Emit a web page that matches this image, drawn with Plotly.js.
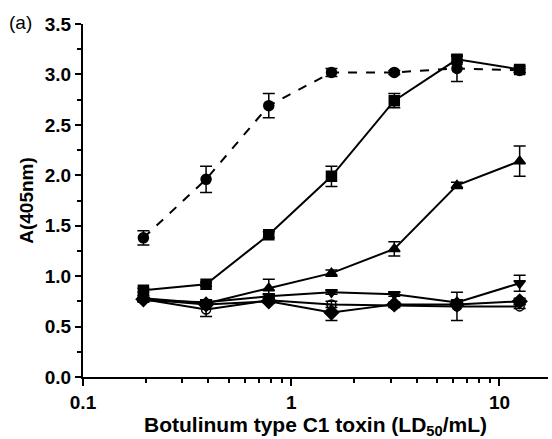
<!DOCTYPE html>
<html>
<head>
<meta charset="utf-8">
<script src="https://cdn.plot.ly/plotly-3.0.1.min.js"></script>
<style>html,body{margin:0;padding:0;background:#fff;}#chart{width:552px;height:439px;}</style>
</head>
<body>
<div id="chart"></div>
<script>
var doses = [0.195, 0.39, 0.78, 1.56, 3.125, 6.25, 12.5];

var circleDashed = [1.38, 1.96, 2.69, 3.02, 3.02, 3.06, 3.04];
var circleDashedErr = [0.07, 0.13, 0.12, 0.04, 0.02, 0.13, 0.02];

var squares = [0.86, 0.92, 1.41, 1.99, 2.74, 3.15, 3.05];
var squaresErr = [0.02, 0.02, 0.03, 0.1, 0.07, 0.03, 0.03];

var triUp = [0.78, 0.73, 0.88, 1.03, 1.27, 1.90, 2.14];
var triUpErr = [0.03, 0.03, 0.09, 0.03, 0.07, 0.03, 0.15];

var triDown = [0.76, 0.74, 0.80, 0.84, 0.82, 0.74, 0.93];
var triDownErr = [0.02, 0.02, 0.02, 0.02, 0.02, 0.02, 0.08];

var diamonds = [0.77, 0.72, 0.75, 0.64, 0.72, 0.72, 0.75];
var diamondsErr = [0.02, 0.02, 0.02, 0.08, 0.02, 0.02, 0.03];

var openCircles = [0.77, 0.67, 0.76, 0.72, 0.71, 0.70, 0.70];
var openCirclesErr = [0.02, 0.07, 0.02, 0.03, 0.02, 0.14, 0.02];

var xTickVals = [0.1, 1, 10];
var xTickText = ['0.1', '1', '10'];
var xMinorVals = [0.2,0.3,0.4,0.5,0.6,0.7,0.8,0.9,2,3,4,5,6,7,8,9];
var yTickVals = [0, 0.5, 1.0, 1.5, 2.0, 2.5, 3.0, 3.5];
var yTickText = ['0.0','0.5','1.0','1.5','2.0','2.5','3.0','3.5'];

function bold(arr) { return arr.map(function (t) { return '<b>' + t + '</b>'; }); }

function series(y, err, symbol, dash, size) {
  return {
    x: doses, y: y, type: 'scatter', mode: 'lines+markers',
    line: {color: '#000', width: 2, dash: dash},
    marker: {symbol: symbol, size: size, color: '#000', line: {color: '#000', width: 1.5}},
    error_y: {type: 'data', array: err, visible: true, color: '#000', thickness: 1.5, width: 6},
    showlegend: false, cliponaxis: false
  };
}

var data = [
  series(openCircles, openCirclesErr, 'circle-open', 'solid', 9),
  series(diamonds, diamondsErr, 'diamond', 'solid', 11),
  series(triDown, triDownErr, 'triangle-down', 'solid', 10),
  series(triUp, triUpErr, 'triangle-up', 'solid', 10),
  series(squares, squaresErr, 'square', 'solid', 10),
  series(circleDashed, circleDashedErr, 'circle', 'dash', 10)
];

var fam = 'Liberation Sans, Arial, sans-serif';

var layout = {
  width: 552, height: 439,
  margin: {l: 83, r: 4, t: 24, b: 62},
  paper_bgcolor: '#fff', plot_bgcolor: '#fff',
  font: {family: fam, color: '#000', size: 19},
  xaxis: {
    type: 'log', range: [-1, 1.233],
    tickvals: xTickVals, ticktext: bold(xTickText),
    ticks: 'outside', ticklen: 7, tickwidth: 2, tickcolor: '#000',
    minor: {tickvals: xMinorVals, ticks: 'outside', ticklen: 4, tickwidth: 2, tickcolor: '#000', showgrid: false},
    showline: true, linecolor: '#000', linewidth: 2,
    showgrid: false, zeroline: false,
    tickfont: {family: fam, size: 19, color: '#000'},
    title: {text: '<b>Botulinum type C1 toxin (LD<sub>50</sub>/mL)</b>', font: {family: fam, size: 21, color: '#000'}, standoff: 6}
  },
  yaxis: {
    range: [0, 3.5],
    tickvals: yTickVals, ticktext: bold(yTickText),
    ticks: 'outside', ticklen: 6, tickwidth: 2, tickcolor: '#000',
    minor: {dtick: 0.25, tick0: 0, ticks: 'outside', ticklen: 4, tickwidth: 2, tickcolor: '#000', showgrid: false},
    showline: true, linecolor: '#000', linewidth: 2,
    showgrid: false, zeroline: false,
    tickfont: {family: fam, size: 19, color: '#000'},
    title: {text: '<b>A(405nm)</b>', font: {family: fam, size: 19, color: '#000'}, standoff: 6}
  },
  annotations: [{
    text: '(a)', xref: 'paper', yref: 'paper', x: 0, y: 1, xshift: -76, yshift: 2,
    xanchor: 'left', yanchor: 'middle', showarrow: false,
    font: {family: fam, size: 19, color: '#000'}
  }]
};

Plotly.newPlot('chart', data, layout, {displayModeBar: false, staticPlot: true});
</script>
</body>
</html>
